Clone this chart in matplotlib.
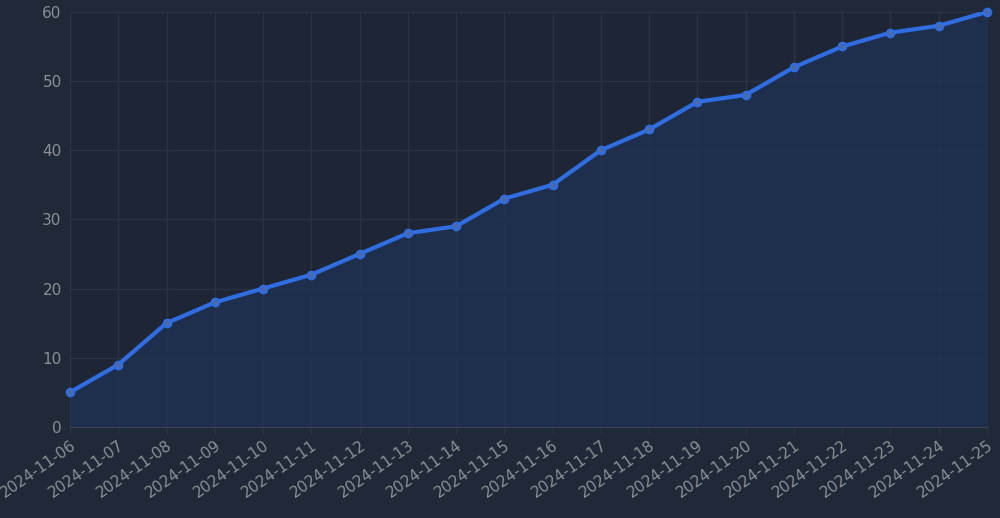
import matplotlib.pyplot as plt

dates = ["2024-11-06", "2024-11-07", "2024-11-08", "2024-11-09", "2024-11-10",
         "2024-11-11", "2024-11-12", "2024-11-13", "2024-11-14", "2024-11-15",
         "2024-11-16", "2024-11-17", "2024-11-18", "2024-11-19", "2024-11-20",
         "2024-11-21", "2024-11-22", "2024-11-23", "2024-11-24", "2024-11-25"]
values = [5, 9, 15, 18, 20, 22, 25, 28, 29, 33, 35, 40, 43, 47, 48, 52, 55, 57, 58, 60]

BG = "#1f2937"
LINE = "#2f6de1"

fig = plt.figure(figsize=(10, 5.18), dpi=100, facecolor=BG)
ax = fig.add_axes([0.07, 0.176, 0.917, 0.801])
ax.set_facecolor("#1e2635")

x = range(len(dates))
ax.fill_between(x, values, 0, color="#1f3050", alpha=0.9, zorder=1)
ax.plot(x, values, color=LINE, linewidth=3, zorder=3)
ax.scatter(x, values, s=30, facecolor="#4a6ab0", edgecolor=LINE, linewidth=1.5,
           zorder=4, clip_on=False)

ax.set_xlim(0, len(dates) - 1)
ax.set_ylim(0, 60)
ax.set_yticks(range(0, 61, 10))
ax.set_xticks(list(x))
ax.set_xticklabels(dates, rotation=35, ha="right", rotation_mode="anchor")
ax.tick_params(colors="#8a8f98", labelsize=11, length=0, pad=6)
ax.tick_params(axis="x", length=5, color="#2e3644", pad=3)
ax.grid(color="#2b3240", linewidth=1)
ax.set_axisbelow(True)
for side in ["top", "right"]:
    ax.spines[side].set_visible(False)
ax.spines["left"].set_color("#2e3644")
ax.spines["bottom"].set_color("#3a4150")

fig.savefig("out.png", dpi=100, facecolor=BG)
